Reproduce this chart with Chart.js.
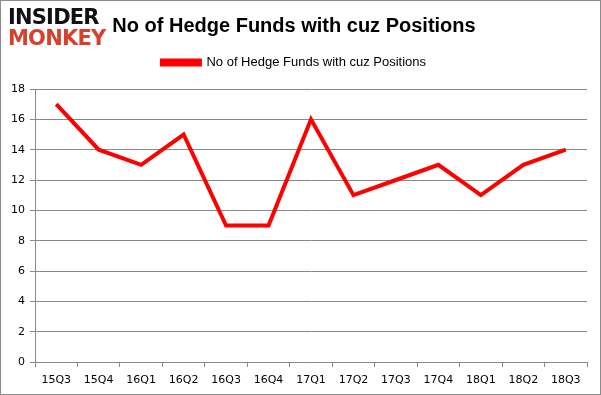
<!DOCTYPE html>
<html>
<head>
<meta charset="utf-8">
<script src="https://cdn.jsdelivr.net/npm/chart.js@4"></script>
<style>
  body { margin: 0; background: #fff; }
  .wrap { position: relative; width: 599px; height: 393px; border: 1px solid #8c8c8c; }
  .logo { position: absolute; left: 7px; top: 6px; font-family: "DejaVu Sans", sans-serif; font-weight: bold; font-size: 21px; line-height: 21px; letter-spacing: -0.8px; }
  .logo .a { color: #111; }
  .logo .b { color: #d8402c; }
</style>
</head>
<body>
<div class="wrap">
  <canvas id="lineChart" width="599" height="393"></canvas>
  <div class="logo"><div class="a">INSIDER</div><div class="b">MONKEY</div></div>
</div>
<script>
const quarters = ["15Q3", "15Q4", "16Q1", "16Q2", "16Q3", "16Q4", "17Q1", "17Q2", "17Q3", "17Q4", "18Q1", "18Q2", "18Q3"];
const funds = [17, 14, 13, 15, 9, 9, 16, 11, 12, 13, 11, 13, 14];
const seriesName = "No of Hedge Funds with cuz Positions";

// extra gap under the legend
const legendGap = {
  id: "legendGap",
  beforeLayout: function (chart) {
    const lg = chart.legend;
    if (lg && !lg._gapped) {
      const fit = lg.fit;
      lg.fit = function () { fit.call(this); this.height += 10; };
      lg._gapped = true;
    }
  }
};

new Chart("lineChart", {
  type: "line",
  data: {
    labels: quarters,
    datasets: [{
      label: seriesName,
      data: funds,
      borderColor: "#ff0000",
      backgroundColor: "#ff0000",
      borderWidth: 4,
      pointRadius: 0,
      tension: 0
    }]
  },
  options: {
    responsive: false,
    animation: false,
    layout: { padding: { top: 0, right: 13, bottom: 0, left: 0 } },
    plugins: {
      title: {
        display: true,
        text: seriesName,
        color: "#000",
        font: { family: "Liberation Sans", size: 20, weight: "bold" },
        padding: { top: 13, bottom: 8 }
      },
      legend: {
        labels: {
          color: "#000",
          font: { family: "Liberation Sans", size: 13 },
          boxWidth: 38,
          boxHeight: 4,
          padding: 10
        }
      },
      tooltip: { enabled: false }
    },
    scales: {
      x: {
        offset: true,
        grid: { offset: true, drawOnChartArea: false, color: "#888", tickLength: 5 },
        border: { color: "#888" },
        ticks: { color: "#000", font: { family: "DejaVu Sans", size: 11 }, maxRotation: 0, padding: 7 },
        afterFit: function (s) { s.height = 32; }
      },
      y: {
        min: 0,
        max: 18,
        ticks: { stepSize: 2, color: "#000", font: { family: "DejaVu Sans", size: 11 }, padding: 5 },
        grid: { color: "#888", tickLength: 5 },
        border: { color: "#888" },
        afterFit: function (s) { s.width = 34; }
      }
    }
  },
  plugins: [legendGap]
});
</script>
</body>
</html>
